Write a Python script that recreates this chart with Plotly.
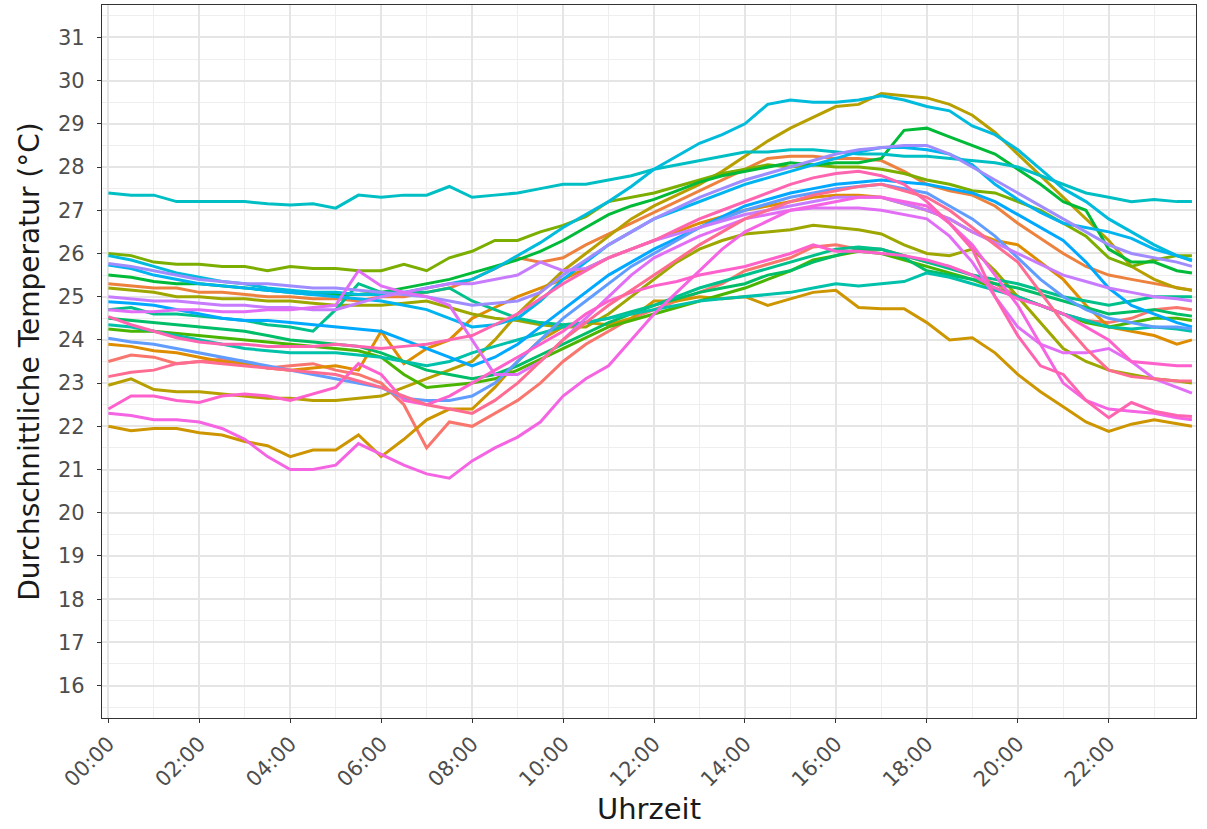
import math
import plotly.graph_objects as go

# Uhrzeit in Stunden (halbstündliche Mittelwerte, letzter Wert 23:50)
hours = [0, 0.5, 1, 1.5, 2, 2.5, 3, 3.5, 4, 4.5, 5, 5.5, 6, 6.5, 7, 7.5,
         8, 8.5, 9, 9.5, 10, 10.5, 11, 11.5, 12, 12.5, 13, 13.5, 14, 14.5, 15, 15.5,
         16, 16.5, 17, 17.5, 18, 18.5, 19, 19.5, 20, 20.5, 21, 21.5, 22, 22.5, 23, 23.5,
         23.83]

tick_hours = [0, 2, 4, 6, 8, 10, 12, 14, 16, 18, 20, 22]
tick_labels = ["00:00", "02:00", "04:00", "06:00", "08:00", "10:00",
               "12:00", "14:00", "16:00", "18:00", "20:00", "22:00"]

# Durchschnittstemperaturen je Messstelle (°C)
raum_01 = [23.5, 23.65, 23.6, 23.45, 23.5, 23.55, 23.5, 23.35, 23.4, 23.45, 23.3, 23.2, 23.0, 22.5, 21.5, 22.1,
           22.0, 22.3, 22.6, 23.0, 23.5, 23.9, 24.2, 24.5, 24.7, 24.9, 25.1, 25.3, 25.6, 25.75, 25.9, 26.15,
           26.2, 26.1, 26.1, 25.95, 25.8, 25.7, 25.5, 25.3, 25.0, 24.8, 24.6, 24.45, 24.4, 24.5, 24.7, 24.75,
           24.7]
raum_02 = [25.3, 25.25, 25.2, 25.2, 25.1, 25.1, 25.05, 25.0, 25.0, 24.95, 24.95, 24.9, 25.0, 25.0, 25.1, 25.2,
           25.4, 25.65, 25.9, 25.8, 25.9, 26.2, 26.45, 26.7, 26.95, 27.2, 27.45, 27.7, 27.95, 28.2, 28.25, 28.25,
           28.2, 28.2, 28.15, 27.9, 27.6, 27.45, 27.35, 27.1, 26.7, 26.35, 26.0, 25.7, 25.5, 25.4, 25.3, 25.2,
           25.15]
raum_03 = [23.9, 23.85, 23.75, 23.7, 23.6, 23.5, 23.45, 23.35, 23.3, 23.35, 23.4, 23.3, 24.2, 23.45, 23.8, 24.0,
           24.5, 24.75, 25.0, 25.2, 25.4, 25.65, 25.9, 26.1, 26.3, 26.5, 26.7, 26.85, 27.0, 27.1, 27.2, 27.3,
           27.35, 27.35, 27.3, 27.15, 27.0, 26.8, 26.5, 26.3, 26.2, 25.8, 25.4, 24.8, 24.3, 24.2, 24.1, 23.9,
           24.0]
raum_04 = [22.0, 21.9, 21.95, 21.95, 21.85, 21.8, 21.65, 21.55, 21.3, 21.45, 21.45, 21.8, 21.3, 21.7, 22.15, 22.4,
           22.4, 22.9, 23.5, 24.0, 24.3, 24.4, 24.35, 24.5, 24.9, 24.9, 25.0, 24.95, 25.0, 24.8, 24.95, 25.1,
           25.15, 24.75, 24.72, 24.72, 24.4, 24.0, 24.05, 23.7, 23.2, 22.8, 22.45, 22.1, 21.88, 22.05, 22.15, 22.05,
           22.0]
raum_05 = [22.95, 23.1, 22.85, 22.8, 22.8, 22.75, 22.7, 22.65, 22.65, 22.6, 22.6, 22.65, 22.7, 22.9, 23.1, 23.3,
           23.5, 24.0, 24.6, 25.1, 25.6, 26.0, 26.4, 26.8, 27.1, 27.35, 27.6, 27.9, 28.25, 28.6, 28.9, 29.15,
           29.4, 29.45, 29.7, 29.65, 29.6, 29.45, 29.2, 28.8, 28.3, 27.8, 27.3, 26.8, 26.3, 25.7, 25.4, 25.2,
           25.15]
raum_06 = [25.2, 25.15, 25.1, 25.0, 25.0, 24.95, 24.95, 24.9, 24.9, 24.85, 24.8, 24.8, 24.8, 24.85, 24.9, 24.75,
           24.6, 24.5, 24.45, 24.35, 24.3, 24.3, 24.6, 25.0, 25.4, 25.8, 26.1, 26.3, 26.45, 26.5, 26.55, 26.65,
           26.6, 26.55, 26.45, 26.2, 26.0, 25.95, 26.1, 25.6, 25.0, 24.4, 23.8, 23.5, 23.3, 23.2, 23.1, 23.05,
           23.0]
raum_07 = [26.0, 25.95, 25.8, 25.75, 25.75, 25.7, 25.7, 25.6, 25.7, 25.65, 25.65, 25.6, 25.6, 25.75, 25.6, 25.9,
           26.05, 26.3, 26.3, 26.5, 26.65, 26.85, 27.2, 27.3, 27.4, 27.55, 27.7, 27.85, 27.95, 28.05, 28.0, 28.05,
           28.0, 28.0, 27.95, 27.85, 27.7, 27.6, 27.45, 27.4, 27.2, 27.0, 26.7, 26.4, 25.9, 25.7, 25.85, 25.95,
           25.95]
raum_08 = [24.25, 24.2, 24.2, 24.15, 24.1, 24.05, 24.0, 23.95, 23.9, 23.85, 23.8, 23.75, 23.6, 23.2, 22.9, 22.95,
           23.0, 23.1, 23.3, 23.55, 23.8, 24.05, 24.3, 24.45, 24.6, 24.75, 24.9, 25.05, 25.2, 25.4, 25.6, 25.85,
           25.95, 26.05, 26.0, 25.85, 25.7, 25.55, 25.4, 25.2, 25.0, 24.8, 24.6, 24.4, 24.3, 24.4, 24.5, 24.5,
           24.45]
raum_09 = [25.5, 25.45, 25.35, 25.3, 25.3, 25.25, 25.2, 25.15, 25.1, 25.05, 25.05, 25.05, 25.1, 25.2, 25.3, 25.4,
           25.55, 25.7, 25.85, 26.05, 26.3, 26.6, 26.9, 27.1, 27.25, 27.45, 27.65, 27.8, 27.9, 28.0, 28.1, 28.05,
           28.1, 28.1, 28.2, 28.85, 28.9, 28.7, 28.5, 28.3, 27.95, 27.6, 27.2, 27.0, 26.1, 25.8, 25.8, 25.6,
           25.55]
raum_10 = [24.5, 24.45, 24.4, 24.35, 24.3, 24.25, 24.2, 24.1, 24.0, 23.95, 23.9, 23.85, 23.7, 23.5, 23.3, 23.2,
           23.1, 23.2, 23.4, 23.65, 23.9, 24.15, 24.4, 24.6, 24.8, 24.95, 25.1, 25.2, 25.3, 25.5, 25.6, 25.8,
           25.95, 26.1, 26.1, 25.9, 25.6, 25.5, 25.4, 25.3, 25.2, 25.05, 24.9, 24.75, 24.6, 24.65, 24.7, 24.6,
           24.55]
raum_11 = [24.7, 24.75, 24.6, 24.6, 24.55, 24.5, 24.45, 24.35, 24.3, 24.2, 24.7, 25.3, 25.1, 25.1, 25.1, 25.2,
           24.9, 24.7, 24.5, 24.4, 24.35, 24.4, 24.5, 24.65, 24.8, 25.0, 25.2, 25.35, 25.5, 25.65, 25.8, 25.95,
           26.1, 26.15, 26.1, 25.95, 25.8, 25.65, 25.5, 25.4, 25.3, 25.15, 25.0, 24.9, 24.8, 24.9, 25.0, 25.0,
           25.0]
raum_12 = [24.35, 24.3, 24.2, 24.1, 24.0, 23.9, 23.8, 23.75, 23.7, 23.7, 23.7, 23.65, 23.6, 23.5, 23.4, 23.5,
           23.7, 23.85, 24.0, 24.15, 24.3, 24.4, 24.5, 24.6, 24.7, 24.8, 24.9, 24.95, 25.0, 25.05, 25.1, 25.2,
           25.3, 25.25, 25.3, 25.35, 25.55, 25.45, 25.3, 25.15, 25.0, 24.8, 24.6, 24.45, 24.3, 24.25, 24.3, 24.25,
           24.2]
raum_13 = [27.4, 27.35, 27.35, 27.2, 27.2, 27.2, 27.2, 27.15, 27.12, 27.15, 27.05, 27.35, 27.3, 27.35, 27.35, 27.55,
           27.3, 27.35, 27.4, 27.5, 27.6, 27.6, 27.7, 27.8, 27.95, 28.05, 28.15, 28.25, 28.35, 28.35, 28.4, 28.4,
           28.35, 28.3, 28.3, 28.25, 28.25, 28.2, 28.15, 28.1, 28.0, 27.8, 27.6, 27.4, 27.3, 27.2, 27.25, 27.2,
           27.2]
raum_14 = [25.95, 25.85, 25.7, 25.55, 25.45, 25.35, 25.3, 25.2, 25.15, 25.1, 25.1, 25.05, 25.05, 25.1, 25.2, 25.3,
           25.4, 25.65, 25.95, 26.25, 26.6, 26.9, 27.2, 27.55, 27.95, 28.25, 28.55, 28.75, 29.0, 29.45, 29.55, 29.5,
           29.5, 29.55, 29.65, 29.55, 29.4, 29.3, 28.95, 28.75, 28.4, 27.95, 27.5, 27.2, 26.8, 26.5, 26.2, 25.95,
           25.85]
raum_15 = [25.73, 25.65, 25.5, 25.4, 25.3, 25.25, 25.2, 25.15, 25.1, 25.05, 25.0, 24.95, 24.9, 24.8, 24.7, 24.5,
           24.3, 24.35, 24.5, 24.9, 25.4, 25.8, 26.2, 26.5, 26.8, 27.0, 27.2, 27.4, 27.6, 27.75, 27.9, 28.05,
           28.2, 28.35, 28.45, 28.45, 28.4, 28.3, 28.05, 27.6, 27.25, 26.95, 26.7, 26.6, 26.5, 26.35, 26.1, 25.95,
           25.83]
raum_16 = [24.88, 24.85, 24.8, 24.7, 24.6, 24.5, 24.45, 24.45, 24.4, 24.35, 24.3, 24.25, 24.2, 24.0, 23.8, 23.6,
           23.4, 23.6, 23.9, 24.3, 24.7, 25.1, 25.5, 25.8, 26.1, 26.35, 26.6, 26.85, 27.1, 27.25, 27.4, 27.5,
           27.6, 27.65, 27.7, 27.65, 27.6, 27.5, 27.4, 27.2, 26.9, 26.6, 26.3, 25.8, 25.2, 24.8, 24.6, 24.4,
           24.3]
raum_17 = [24.04, 23.95, 23.9, 23.8, 23.7, 23.6, 23.5, 23.4, 23.3, 23.2, 23.1, 23.0, 22.9, 22.65, 22.6, 22.6,
           22.7, 23.0, 23.5, 24.0, 24.5, 24.9, 25.3, 25.7, 26.0, 26.3, 26.6, 26.8, 27.0, 27.15, 27.3, 27.4,
           27.5, 27.55, 27.6, 27.5, 27.4, 27.1, 26.8, 26.4, 25.9, 25.4, 25.0, 24.7, 24.5, 24.4, 24.3, 24.3,
           24.25]
raum_18 = [25.77, 25.7, 25.6, 25.5, 25.4, 25.35, 25.3, 25.3, 25.25, 25.2, 25.2, 25.15, 25.1, 25.05, 25.0, 24.9,
           24.8, 24.85, 24.9, 25.1, 25.5, 25.85, 26.2, 26.5, 26.8, 27.05, 27.3, 27.5, 27.7, 27.85, 28.0, 28.15,
           28.3, 28.4, 28.45, 28.5, 28.5, 28.3, 28.0, 27.7, 27.4, 27.1, 26.8, 26.5, 26.2, 26.0, 25.9, 25.8,
           25.7]
raum_19 = [25.0, 24.95, 24.9, 24.9, 24.85, 24.8, 24.8, 24.75, 24.75, 24.7, 24.7, 24.85, 25.0, 25.1, 25.2, 25.3,
           25.3, 25.4, 25.5, 25.8, 25.6, 25.65, 25.9, 26.1, 26.3, 26.45, 26.6, 26.75, 26.9, 27.0, 27.1, 27.2,
           27.3, 27.3, 27.3, 27.15, 27.0, 26.8, 26.5, 26.25, 26.0, 25.75, 25.5, 25.35, 25.2, 25.1, 25.0, 24.95,
           24.9]
raum_20 = [24.7, 24.65, 24.65, 24.7, 24.7, 24.65, 24.65, 24.7, 24.7, 24.75, 24.8, 25.6, 25.25, 25.1, 25.0, 24.8,
           24.0, 23.2, 23.2, 23.5, 24.0, 24.5, 25.0, 25.5, 25.9, 26.15, 26.4, 26.6, 26.8, 26.9, 27.0, 27.05,
           27.05, 27.05, 27.0, 26.9, 26.8, 26.4, 25.8, 25.0, 24.3, 23.9, 23.7, 23.7, 23.8, 23.5, 23.1, 22.9,
           22.77]
raum_21 = [22.3, 22.25, 22.15, 22.15, 22.1, 21.95, 21.7, 21.3, 21.0, 21.0, 21.1, 21.6, 21.35, 21.1, 20.9, 20.8,
           21.2, 21.5, 21.75, 22.1, 22.7, 23.1, 23.4, 24.0, 24.6, 25.1, 25.6, 26.1, 26.5, 26.75, 27.0, 27.1,
           27.2, 27.3, 27.3, 27.2, 27.1, 26.7, 26.2, 25.5, 24.8, 23.9, 23.0, 22.6, 22.4, 22.35, 22.3, 22.2,
           22.15]
raum_22 = [22.4, 22.7, 22.7, 22.6, 22.55, 22.7, 22.75, 22.7, 22.6, 22.75, 22.9, 23.45, 23.2, 22.6, 22.5, 22.7,
           23.0, 23.3, 23.6, 23.9, 24.2, 24.6, 24.9, 25.1, 25.25, 25.35, 25.5, 25.6, 25.7, 25.85, 26.0, 26.2,
           26.05, 26.05, 26.0, 25.95, 25.85, 25.7, 25.5, 25.2, 24.95, 24.8, 24.6, 24.3, 24.0, 23.5, 23.45, 23.4,
           23.4]
raum_23 = [24.54, 24.35, 24.2, 24.05, 23.95, 23.9, 23.9, 23.85, 23.85, 23.85, 23.9, 23.85, 23.8, 23.85, 23.9, 24.0,
           24.1, 24.35, 24.6, 24.95, 25.3, 25.6, 25.9, 26.1, 26.3, 26.55, 26.8, 27.0, 27.2, 27.4, 27.6, 27.75,
           27.85, 27.9, 27.8, 27.6, 27.2, 26.7, 26.1, 25.0, 24.1, 23.4, 23.2, 22.6, 22.2, 22.55, 22.35, 22.25,
           22.23]
raum_24 = [23.15, 23.25, 23.3, 23.45, 23.5, 23.45, 23.4, 23.35, 23.3, 23.25, 23.2, 23.05, 22.9, 22.7, 22.5, 22.4,
           22.3, 22.6, 23.0, 23.5, 24.0, 24.4, 24.8, 25.15, 25.5, 25.85, 26.2, 26.5, 26.8, 27.0, 27.2, 27.35,
           27.45, 27.55, 27.6, 27.45, 27.3, 27.0, 26.6, 26.2, 25.8, 25.1, 24.4, 23.8, 23.3, 23.15, 23.1, 23.05,
           23.05]

series = [raum_01, raum_02, raum_03, raum_04, raum_05, raum_06, raum_07, raum_08,
          raum_09, raum_10, raum_11, raum_12, raum_13, raum_14, raum_15, raum_16,
          raum_17, raum_18, raum_19, raum_20, raum_21, raum_22, raum_23, raum_24]


def hcl_hex(h, c=100.0, l=65.0):
    """Polar CIELUV -> sRGB hex (same as a default discrete hue palette)."""
    xn, yn, zn = 95.047, 100.0, 108.883
    den = xn + 15 * yn + 3 * zn
    un, vn = 4 * xn / den, 9 * yn / den
    u = c * math.cos(math.radians(h))
    v = c * math.sin(math.radians(h))
    y = yn * ((l + 16) / 116) ** 3
    up = u / (13 * l) + un
    vp = v / (13 * l) + vn
    x = y * 9 * up / (4 * vp)
    z = y * (12 - 3 * up - 20 * vp) / (4 * vp)
    x, y, z = x / 100, y / 100, z / 100
    rgb = [3.2404542 * x - 1.5371385 * y - 0.4985314 * z,
           -0.9692660 * x + 1.8760108 * y + 0.0415560 * z,
           0.0556434 * x - 0.2040259 * y + 1.0572252 * z]
    out = []
    for ch in rgb:
        ch = 12.92 * ch if ch <= 0.0031308 else 1.055 * ch ** (1 / 2.4) - 0.055
        out.append(int(round(min(max(ch, 0.0), 1.0) * 255)))
    return "#{:02X}{:02X}{:02X}".format(*out)


n = len(series)
colors = [hcl_hex(15 + 360 * i / n) for i in range(n)]

fig = go.Figure()
for i, vals in enumerate(series):
    fig.add_trace(go.Scatter(
        x=hours, y=vals, mode="lines",
        line=dict(color=colors[i], width=3),
        name="Raum {:02d}".format(i + 1),
        showlegend=False,
        hoverinfo="skip",
    ))

grid_major = "#E5E5E5"
grid_minor = "#EEEEEE"
frame = "#333333"

fig.update_layout(
    width=1207, height=829,
    margin=dict(l=102, r=11, t=5, b=111),
    paper_bgcolor="white", plot_bgcolor="white",
    font=dict(family="DejaVu Sans", color="#4D4D4D"),
    xaxis=dict(
        range=[-0.14, 23.92],
        tickmode="array", tickvals=tick_hours, ticktext=tick_labels,
        tickangle=-45, tickfont=dict(size=21, color="#4D4D4D"),
        showgrid=True, gridcolor=grid_major, gridwidth=2,
        minor=dict(dtick=1, tick0=0, showgrid=True, gridcolor=grid_minor, gridwidth=1.2),
        showline=True, mirror=True, linecolor=frame, linewidth=1.3,
        ticks="outside", ticklen=4, tickcolor=frame,
        zeroline=False,
        title=dict(text="Uhrzeit", font=dict(size=29, color="#1A1A1A"), standoff=8),
    ),
    yaxis=dict(
        range=[15.25, 31.75],
        tick0=16, dtick=1,
        tickfont=dict(size=21, color="#4D4D4D"),
        showgrid=True, gridcolor=grid_major, gridwidth=2,
        minor=dict(dtick=0.5, tick0=15.5, showgrid=True, gridcolor=grid_minor, gridwidth=1.2),
        showline=True, mirror=True, linecolor=frame, linewidth=1.3,
        ticks="outside", ticklen=4, tickcolor=frame,
        ticklabelstandoff=8,
        zeroline=False,
        title=dict(text="Durchschnittliche Temperatur (°C)", font=dict(size=28, color="#1A1A1A"), standoff=10),
    ),
)

fig.write_html("out.html")
